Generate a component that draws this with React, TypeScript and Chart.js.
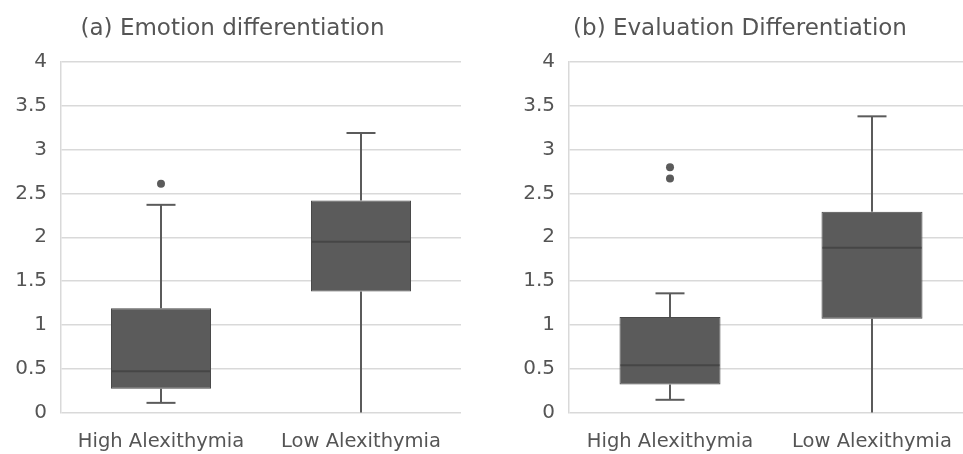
import React, { useEffect, useRef } from "react";
import { Chart, registerables } from "chart.js";

Chart.register(...registerables);

const categories = ["High Alexithymia", "Low Alexithymia"];
const yTicks = [0, 0.5, 1, 1.5, 2, 2.5, 3, 3.5, 4];

// (a) Emotion differentiation
const emotionMin = [0.11, 0.0];
const emotionQ1 = [0.27, 1.38];
const emotionMedian = [0.47, 1.95];
const emotionQ3 = [1.19, 2.42];
const emotionMax = [2.37, 3.19];
const emotionOutliers = [[2.61], []];

// (b) Evaluation Differentiation
const evaluationMin = [0.145, 0.0];
const evaluationQ1 = [0.32, 1.07];
const evaluationMedian = [0.54, 1.88];
const evaluationQ3 = [1.09, 2.29];
const evaluationMax = [1.36, 3.38];
const evaluationOutliers = [[2.8, 2.67], []];

const FONT = '"DejaVu Sans", "Liberation Sans", Arial, sans-serif';
const TEXT = "#555555";
const GRID = "#d9d9d9";
const BOX = "#5b5b5b";

type Panel = {
  title: string;
  min: number[];
  q1: number[];
  median: number[];
  q3: number[];
  max: number[];
  outliers: number[][];
  yAxisWidth: number;
  padRight: number;
};

function makeConfig(p: Panel): any {
  const outlierPoints: { x: string; y: number }[] = [];
  p.outliers.forEach((arr, i) => arr.forEach((v) => outlierPoints.push({ x: categories[i], y: v })));

  const boxPlugin = {
    id: "boxExtras",
    afterDatasetsDraw(chart: any) {
      const ctx = chart.ctx;
      const xs = chart.scales.x;
      const ys = chart.scales.y;
      const meta = chart.getDatasetMeta(0);
      ctx.save();
      categories.forEach((_, i) => {
        const cx = xs.getPixelForValue(i);
        const bar = meta.data[i];
        const half = bar ? bar.width / 2 : 50;
        const capHalf = 14.5;
        ctx.strokeStyle = BOX;
        ctx.lineWidth = 2;
        ctx.beginPath();
        ctx.moveTo(cx, ys.getPixelForValue(p.q3[i]));
        ctx.lineTo(cx, ys.getPixelForValue(p.max[i]));
        ctx.stroke();
        ctx.beginPath();
        ctx.moveTo(cx, ys.getPixelForValue(p.q1[i]));
        ctx.lineTo(cx, ys.getPixelForValue(p.min[i]));
        ctx.stroke();
        if (p.max[i] > p.q3[i]) {
          const y = ys.getPixelForValue(p.max[i]);
          ctx.beginPath();
          ctx.moveTo(cx - capHalf, y);
          ctx.lineTo(cx + capHalf, y);
          ctx.stroke();
        }
        if (p.min[i] > 0) {
          const y = ys.getPixelForValue(p.min[i]);
          ctx.beginPath();
          ctx.moveTo(cx - capHalf, y);
          ctx.lineTo(cx + capHalf, y);
          ctx.stroke();
        }
        ctx.strokeStyle = "#464646";
        ctx.lineWidth = 2;
        const my = ys.getPixelForValue(p.median[i]);
        ctx.beginPath();
        ctx.moveTo(cx - half + 1, my);
        ctx.lineTo(cx + half - 1, my);
        ctx.stroke();
      });
      ctx.restore();
    },
    afterDraw(chart: any) {
      const ctx = chart.ctx;
      ctx.save();
      ctx.font = "23px " + FONT;
      ctx.fillStyle = TEXT;
      ctx.textAlign = "center";
      ctx.textBaseline = "alphabetic";
      ctx.fillText(p.title, chart.width / 2, 34.5);
      ctx.restore();
    },
  };

  return {
    type: "bar",
    data: {
      labels: categories,
      datasets: [
        {
          type: "bar",
          data: categories.map((_, i) => [p.q1[i], p.q3[i]]),
          backgroundColor: BOX,
          borderColor: "#4a4a4a",
          borderWidth: 1,
          borderSkipped: false,
          barPercentage: 0.5,
          categoryPercentage: 1,
        },
        {
          type: "line",
          data: outlierPoints,
          showLine: false,
          pointRadius: 4,
          pointBackgroundColor: BOX,
          pointBorderColor: BOX,
          pointBorderWidth: 0,
        },
      ],
    },
    options: {
      animation: false,
      responsive: false,
      maintainAspectRatio: false,
      layout: { padding: { top: 62, right: p.padRight, left: 0, bottom: 0 } },
      plugins: { legend: { display: false }, tooltip: { enabled: false }, title: { display: false } },
      scales: {
        x: {
          type: "category",
          grid: { display: false, drawTicks: false },
          border: { display: false },
          ticks: { color: TEXT, font: { family: FONT, size: 19.5 }, padding: 18, maxRotation: 0 },
          afterFit: (s: any) => {
            s.height = 41.5;
          },
        },
        y: {
          min: 0,
          max: 4,
          afterBuildTicks: (s: any) => {
            s.ticks = yTicks.map((v) => ({ value: v }));
          },
          grid: { color: GRID, lineWidth: 1.5, drawTicks: false },
          border: { display: true, color: GRID, width: 1.5 },
          ticks: {
            color: TEXT,
            font: { family: FONT, size: 20 },
            padding: 14,
            callback: (v: any) => String(v),
          },
          afterFit: (s: any) => {
            s.width = p.yAxisWidth;
          },
        },
      },
    },
    plugins: [boxPlugin],
  };
}

function BoxChart({ panel, width }: { panel: Panel; width: number }) {
  const ref = useRef<HTMLCanvasElement | null>(null);
  useEffect(() => {
    if (!ref.current) return;
    const chart = new Chart(ref.current, makeConfig(panel));
    return () => chart.destroy();
  }, []);
  return <canvas ref={ref} width={width} height={454} style={{ display: "block", width, height: 454 }} />;
}

export default function App() {
  const a: Panel = {
    title: "(a) Emotion differentiation",
    min: emotionMin,
    q1: emotionQ1,
    median: emotionMedian,
    q3: emotionQ3,
    max: emotionMax,
    outliers: emotionOutliers,
    yAxisWidth: 61,
    padRight: 1,
  };
  const b: Panel = {
    title: "(b) Evaluation Differentiation",
    min: evaluationMin,
    q1: evaluationQ1,
    median: evaluationMedian,
    q3: evaluationQ3,
    max: evaluationMax,
    outliers: evaluationOutliers,
    yAxisWidth: 89,
    padRight: 27,
  };
  return (
    <div
      style={{
        position: "fixed",
        left: 0,
        top: 0,
        width: 963,
        height: 454,
        overflow: "hidden",
        background: "#ffffff",
      }}
    >
      <div style={{ position: "absolute", left: 0, top: 0 }}>
        <BoxChart panel={a} width={465} />
      </div>
      <div style={{ position: "absolute", left: 480, top: 0 }}>
        <BoxChart panel={b} width={520} />
      </div>
    </div>
  );
}
